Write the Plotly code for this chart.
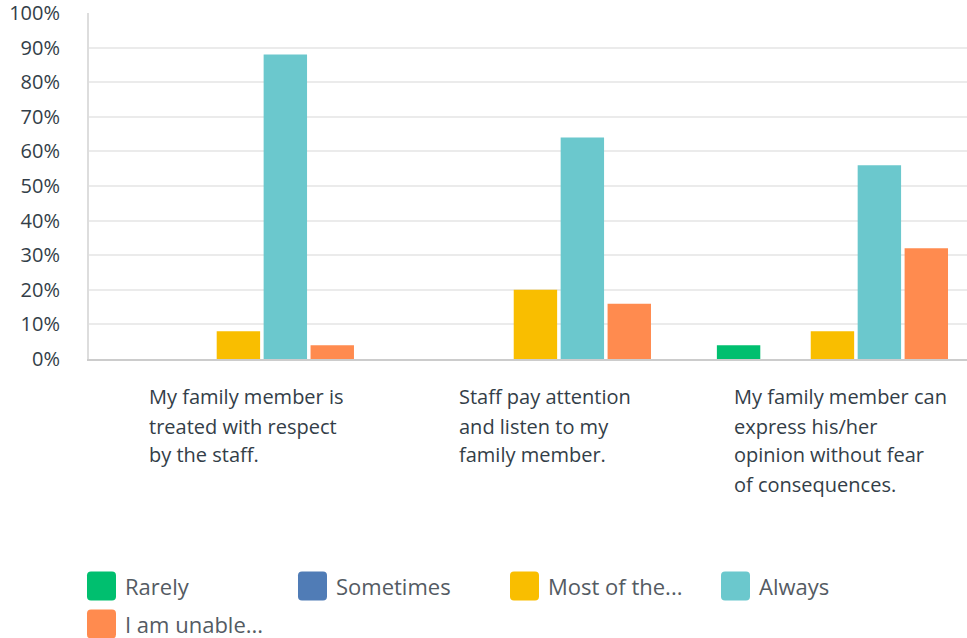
import plotly.graph_objects as go

# ---- data ----
categories = [
    "My family member is treated with respect by the staff.",
    "Staff pay attention and listen to my family member.",
    "My family member can express his/her opinion without fear of consequences.",
]
category_lines = [
    ["My family member is", "treated with respect", "by the staff."],
    ["Staff pay attention", "and listen to my", "family member."],
    ["My family member can", "express his/her", "opinion without fear", "of consequences."],
]
series_names = ["Rarely", "Sometimes", "Most of the...", "Always", "I am unable..."]
rarely = [0, 0, 4]
sometimes = [0, 0, 0]
most_of_the_time = [8, 20, 8]
always = [88, 64, 56]
unable = [4, 16, 32]
series_values = [rarely, sometimes, most_of_the_time, always, unable]
colors = ["#00BF6F", "#507CB6", "#F9BE00", "#6BC8CD", "#FF8B4F"]
y_ticks = list(range(0, 101, 10))

# ---- layout geometry (window pixels; body margin removed below) ----
W, H = 967, 638
L, R, T, B = 89, 0, 13, 638 - 359
PW, PH = W - L - R, H - T - B

def px_x(px):  # window pixel -> paper x
    return (px - L) / PW

def px_y(py):  # window pixel -> paper y
    return (H - B - py) / PH

FONT = "Open Sans"
TEXT_COLOR = "#333E48"

fig = go.Figure()
for name, vals, col in zip(series_names, series_values, colors):
    fig.add_trace(go.Bar(
        x=categories, y=vals, name=name, marker=dict(color=col, line=dict(width=0)),
        showlegend=False,
    ))

annotations = []
# category labels (left aligned blocks)
block_left = [147, 457, 732]
for i, lines in enumerate(category_lines):
    for j, line in enumerate(lines):
        annotations.append(dict(
            x=px_x(block_left[i]), y=px_y(397 + 29 * j), xref="paper", yref="paper",
            text=line, showarrow=False, xanchor="left", yanchor="middle",
            font=dict(family=FONT, size=20, color=TEXT_COLOR),
        ))

# manual legend
shapes = []
legend_x = [87, 298, 510, 721]
legend_rows = [586, 624]

def rounded_rect(x0, y0, x1, y1, r):
    def p(x, y):
        return f"{px_x(x):.5f},{px_y(y):.5f}"
    return (f"M{p(x0 + r, y0)} L{p(x1 - r, y0)} Q{p(x1, y0)} {p(x1, y0 + r)} "
            f"L{p(x1, y1 - r)} Q{p(x1, y1)} {p(x1 - r, y1)} L{p(x0 + r, y1)} "
            f"Q{p(x0, y1)} {p(x0, y1 - r)} L{p(x0, y0 + r)} Q{p(x0, y0)} {p(x0 + r, y0)} Z")

for k, (name, col) in enumerate(zip(series_names, colors)):
    cx = legend_x[k % 4]
    cy = legend_rows[k // 4]
    shapes.append(dict(type="path", xref="paper", yref="paper",
                       path=rounded_rect(cx, cy - 14.5, cx + 29, cy + 14.5, 4),
                       fillcolor=col, line=dict(width=0)))
    annotations.append(dict(
        x=px_x(cx + 36), y=px_y(cy), xref="paper", yref="paper", text=name,
        showarrow=False, xanchor="left", yanchor="middle",
        font=dict(family=FONT, size=22, color="#545B63"),
    ))

fig.update_layout(
    width=W, height=H,
    margin=dict(l=L, r=R, t=T, b=B, autoexpand=False),
    paper_bgcolor="white", plot_bgcolor="white",
    barmode="group", bargap=0.21, bargroupgap=0.075,
    font=dict(family=FONT, color=TEXT_COLOR),
    annotations=annotations, shapes=shapes,
    showlegend=False,
)
fig.update_xaxes(
    range=[-0.503, 2.453], showticklabels=False, ticks="",
    showline=True, linecolor="#CCCCCC", linewidth=2, showgrid=False, zeroline=False,
    automargin=False,
)
fig.update_yaxes(
    range=[0, 100], tickvals=y_ticks, ticktext=[f"{v}%" for v in y_ticks],
    showgrid=True, gridcolor="#EBEBEB", gridwidth=1.5,
    showline=True, linecolor="#DDDDDD", linewidth=2, zeroline=False,
    ticks="", ticklabelstandoff=23, ticklabeloverflow="allow", automargin=False,
    tickfont=dict(family=FONT, size=20, color=TEXT_COLOR),
)

fig.write_html(
    "out.html",
    config={"displayModeBar": False},
    post_script="document.body.style.margin='0';document.body.style.overflow='hidden';",
)
